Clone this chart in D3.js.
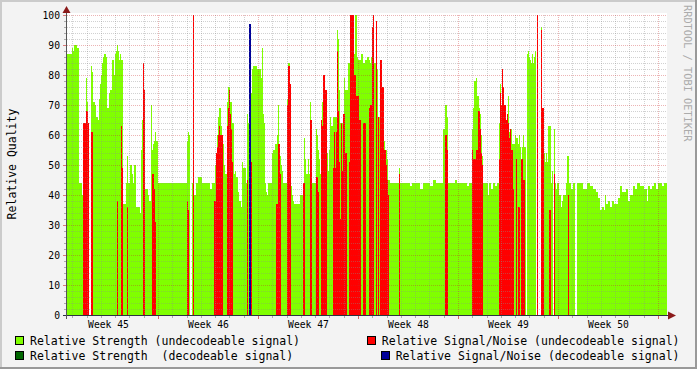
<!DOCTYPE html>
<html>
<head>
<meta charset="utf-8">
<script src="https://cdn.jsdelivr.net/npm/d3@7"></script>
<style>
  body { margin: 0; background: #f3f3f3; }
  svg { display: block; }
  text { font-family: "DejaVu Sans Mono", monospace; }
</style>
</head>
<body>
<svg id="chart" width="697" height="369"></svg>
<script>
// one sample every 6048 s (1.68 h), 600 samples, first one Mon 5 Nov 2007 15:07 UTC
const startTime = Date.UTC(2007, 10, 5, 15, 7, 12);
const stepMs = 6048 * 1000;
const sampleCount = 600;

// [first sample, value] – value holds until the next entry, null = no data
const strengthUndec = [
  [0, 87], [5, 89], [6, 88], [7, 90], [10, 89], [12, 44], [15, 40], [16, 62], [19, 79], [20, 71],
  [21, 64], [22, null], [24, 83], [25, 81], [26, 71], [28, 70], [29, 66], [31, 65], [32, 72], [33, 77],
  [34, 80], [35, 84], [36, 86], [37, 87], [39, 86], [40, 69], [42, 74], [43, 75], [45, 85], [47, 80],
  [48, 87], [49, 88], [50, 90], [51, 88], [52, 85], [53, 87], [54, 85], [56, 37], [59, 44], [60, 53],
  [61, 44], [63, 50], [65, 47], [66, 44], [67, 50], [69, 36], [73, 34], [74, 55], [75, 65], [77, 55],
  [78, 42], [81, 40], [82, 38], [84, 70], [85, 55], [86, 57], [87, 58], [88, 61], [89, 58], [91, 44],
  [120, 58], [121, 61], [122, 60], [123, null], [125, 44], [127, 40], [129, 44], [131, 46], [135, 44], [143, 42],
  [145, 44], [148, 50], [149, 54], [150, 60], [151, 66], [152, 69], [154, 63], [155, 57], [157, 50], [158, 47],
  [160, 71], [161, 76], [163, 71], [165, 64], [167, 47], [168, 48], [169, 46], [171, 41], [172, 38], [174, 36],
  [175, 51], [176, 49], [179, 44], [180, 67], [181, 64], [184, 74], [185, 82], [186, 83], [190, 82], [194, 79],
  [195, 89], [196, 67], [197, 64], [198, 44], [199, 41], [200, 40], [201, 44], [205, 54], [206, 55], [208, 57],
  [210, 60], [211, 70], [212, 57], [213, 53], [214, 50], [215, 48], [216, 44], [220, 72], [221, 84], [223, 77],
  [224, 43], [225, 40], [226, 38], [227, 37], [233, 40], [236, 42], [237, 59], [238, 52], [239, 47], [241, 52],
  [242, 47], [243, 71], [244, 65], [245, 44], [249, 62], [250, 60], [251, 55], [252, 52], [253, 47], [255, 71],
  [256, 62], [257, 80], [258, 75], [260, 54], [261, 48], [262, 55], [263, 66], [264, 63], [266, 66], [270, 95],
  [271, 92], [272, 75], [273, 64], [277, 79], [278, 75], [281, 84], [283, 81], [287, 87], [288, 100], [290, 86],
  [291, 85], [294, 87], [296, 84], [298, 85], [300, 86], [302, 85], [303, 84], [304, 86], [305, 84], [309, 82],
  [311, 66], [314, 65], [316, 60], [317, 58], [318, 55], [320, 52], [321, 45], [323, 44], [332, 49], [333, 44],
  [343, 43], [345, 44], [353, 42], [356, 44], [363, 43], [366, 45], [369, 44], [376, 62], [378, 70], [380, 66],
  [381, 44], [388, 45], [390, 44], [400, 43], [402, 44], [405, 62], [406, 69], [407, 78], [409, 79], [410, 73],
  [412, 69], [413, 67], [414, 60], [415, 53], [416, 44], [421, 40], [422, 44], [424, 42], [426, 44], [428, 43],
  [430, 44], [432, 64], [433, 77], [434, 70], [435, 78], [436, 70], [438, 65], [441, 73], [442, 61], [443, 62],
  [445, 57], [448, 60], [449, 59], [451, 57], [452, 60], [453, 56], [454, 51], [455, 56], [456, 60], [457, 56],
  [459, null], [460, 87], [461, 88], [462, 86], [463, 85], [464, 84], [465, 87], [466, 84], [467, 86], [468, 88],
  [469, null], [470, 44], [471, null], [474, 96], [475, 51], [477, 54], [478, 51], [479, 54], [480, 51], [481, 63],
  [484, 44], [485, 48], [486, null], [487, 62], [488, 44], [489, 42], [490, 44], [492, 40], [494, 36], [495, 38],
  [496, 40], [499, 44], [500, 53], [502, 44], [504, 42], [506, 44], [508, null], [510, 44], [516, 42], [520, 44],
  [523, 43], [526, 42], [529, 41], [531, 39], [533, 35], [535, 36], [537, 35], [538, 40], [539, 37], [541, 38],
  [543, 36], [545, 38], [547, 37], [551, 39], [553, 43], [555, 41], [559, 42], [561, 38], [563, 40], [566, 43],
  [568, 42], [570, 44], [573, 43], [577, 42], [580, 38], [581, 43], [583, 42], [585, 43], [587, 44], [589, 42],
  [591, 44], [595, 43], [597, 44]
];

const strengthDec = [
  [182, 95], [184, 0]
];

const snUndec = [
  [16, 64], [19, 68], [21, 64], [22, 0], [24, 61], [26, 0], [50, 38], [51, 0], [54, 63], [55, 49],
  [56, 0], [60, 36], [61, 0], [76, 84], [77, 75], [78, 0], [85, 47], [87, 42], [88, 31], [89, 0],
  [120, 38], [121, 35], [122, 0], [126, 100], [127, 0], [147, 38], [149, 54], [150, 56], [151, 60], [152, 63],
  [153, 60], [156, 0], [160, 63], [161, 69], [162, 75], [163, 67], [164, 62], [165, 51], [166, 0], [180, 45],
  [181, 0], [184, 51], [185, 0], [209, 37], [211, 57], [213, 47], [214, 0], [220, 70], [221, 83], [223, 77],
  [224, 0], [236, 44], [238, 0], [243, 65], [245, 0], [249, 46], [251, 41], [252, 0], [254, 65], [255, 63],
  [256, 80], [258, 75], [260, 0], [266, 49], [267, 61], [268, 49], [269, 61], [270, 88], [271, 68], [272, 51],
  [273, 32], [274, 64], [275, 48], [276, 67], [278, 54], [280, 0], [282, 51], [283, 100], [287, 80], [289, 73],
  [292, 65], [294, 0], [296, 64], [299, 0], [302, 69], [303, 70], [305, 96], [306, 100], [307, 0], [309, 98],
  [310, 0], [311, 66], [312, 0], [313, 85], [315, 76], [317, 55], [319, 50], [320, 45], [321, 40], [322, 0],
  [332, 47], [333, 0], [378, 60], [380, 55], [381, 0], [405, 55], [406, 52], [409, 55], [411, 68], [413, 62],
  [414, 54], [415, 50], [416, 0], [432, 52], [433, 74], [434, 70], [435, 82], [436, 76], [437, 70], [439, 65],
  [440, 67], [441, 64], [442, 59], [443, 62], [444, 55], [446, 42], [447, 0], [449, 52], [450, 0], [451, 36],
  [453, 0], [454, 52], [456, 45], [458, 0], [470, 100], [471, 0], [474, 95], [475, 69], [477, 0], [482, 35],
  [484, 0], [487, 47], [488, 0], [501, 40], [502, 0]
];

const snDec = [
  [182, 97], [184, 0]
];

const yTicks = [0, 10, 20, 30, 40, 50, 60, 70, 80, 90, 100];

const seriesNames = [
  "Relative Strength (undecodeable signal)",
  "Relative Strength  (decodeable signal)",
  "Relative Signal/Noise (undecodeable signal)",
  "Relative Signal/Noise (decodeable signal)"
];
const seriesColors = ["#80ff00", "#006600", "#ff0000", "#000099"];

// expand the run lists into one value per sample
function expand(steps, dflt) {
  const out = new Array(sampleCount).fill(dflt);
  steps.forEach(([from, v], k) => {
    const to = k + 1 < steps.length ? steps[k + 1][0] : sampleCount;
    for (let i = from; i < to; i++) out[i] = v;
  });
  return out;
}

const series = [
  expand(strengthUndec, null),
  expand(strengthDec, 0),
  expand(snUndec, 0),
  expand(snDec, 0)
];

const sampleTime = i => new Date(startTime + i * stepMs);

const svg = d3.select("#chart");
const W = 697, H = 369;
const plotL = 67, plotR = 667, plotT = 15, plotB = 315;

const x = d3.scaleUtc().domain([sampleTime(0), sampleTime(sampleCount)]).range([plotL, plotR]);
const y = d3.scaleLinear().domain([0, 100]).range([plotB, plotT]);

// background and 3d frame
svg.append("rect").attr("width", W).attr("height", H).attr("fill", "#f3f3f3");
svg.append("rect").attr("x", 0).attr("y", 0).attr("width", W).attr("height", 2).attr("fill", "#cbcbcb");
svg.append("rect").attr("x", 0).attr("y", 0).attr("width", 2).attr("height", H).attr("fill", "#cbcbcb");
svg.append("rect").attr("x", 0).attr("y", H - 2).attr("width", W).attr("height", 2).attr("fill", "#999");
svg.append("rect").attr("x", W - 2).attr("y", 0).attr("width", 2).attr("height", H).attr("fill", "#999");

// canvas
svg.append("rect").attr("x", plotL).attr("y", plotT - 2).attr("width", plotR - plotL).attr("height", plotB - plotT + 2)
  .attr("fill", "#fff");

// the four areas, one column per sample, drawn in rrd order
const marks = svg.append("g").attr("shape-rendering", "crispEdges");
series.forEach((values, s) => {
  const pts = values.map((v, i) => ({ i, v })).filter(d => d.v != null && d.v > 0);
  marks.append("g").selectAll("rect")
    .data(pts)
    .join("rect")
    .attr("x", d => x(sampleTime(d.i)))
    .attr("width", d => x(sampleTime(d.i + 1)) - x(sampleTime(d.i)))
    .attr("y", d => y(d.v))
    .attr("height", d => y(0) - y(d.v))
    .attr("fill", seriesColors[s]);
});

// grid on top of the data
const grid = svg.append("g").attr("stroke-dasharray", "1,1").attr("shape-rendering", "crispEdges");
const minorCol = "rgba(140,140,140,0.4)";
const majorCol = "rgba(200,40,40,0.35)";
const [t0, t1] = x.domain();
const days = d3.utcDay.range(t0, t1).filter(d => d.getUTCDay() !== 1);
const weeks = d3.utcMonday.range(t0, t1);

grid.selectAll(".vmin").data(days).join("line")
  .attr("x1", d => Math.round(x(d)) + 0.5).attr("x2", d => Math.round(x(d)) + 0.5)
  .attr("y1", plotT).attr("y2", plotB).attr("stroke", minorCol);
grid.selectAll(".vmaj").data(weeks).join("line")
  .attr("x1", d => Math.round(x(d)) + 0.5).attr("x2", d => Math.round(x(d)) + 0.5)
  .attr("y1", plotT).attr("y2", plotB).attr("stroke", majorCol);

const hLevels = d3.range(2, 101, 2);
grid.selectAll(".h").data(hLevels).join("line")
  .attr("x1", plotL).attr("x2", plotR)
  .attr("y1", d => y(d) + 0.5).attr("y2", d => y(d) + 0.5)
  .attr("stroke", d => d % 10 === 0 ? majorCol : minorCol);

// tick marks
const ticks = svg.append("g").attr("shape-rendering", "crispEdges");
ticks.selectAll(".yt").data(hLevels).join("line")
  .attr("x1", d => d % 10 === 0 ? 63 : 64).attr("x2", 66)
  .attr("y1", d => y(d) + 0.5).attr("y2", d => y(d) + 0.5)
  .attr("stroke", d => d % 10 === 0 ? "rgba(200,40,40,0.6)" : "rgba(140,140,140,0.7)");
ticks.selectAll(".xt").data(days).join("line")
  .attr("x1", d => Math.round(x(d)) + 0.5).attr("x2", d => Math.round(x(d)) + 0.5)
  .attr("y1", plotB + 1).attr("y2", plotB + 3).attr("stroke", "rgba(140,140,140,0.7)");
ticks.selectAll(".xw").data(weeks).join("line")
  .attr("x1", d => Math.round(x(d)) + 0.5).attr("x2", d => Math.round(x(d)) + 0.5)
  .attr("y1", plotB + 1).attr("y2", plotB + 4).attr("stroke", "rgba(200,40,40,0.7)");

// axes lines and arrows
const axisCol = "#2c3440";
const arrowCol = "#8b1a1a";
svg.append("line").attr("x1", 63).attr("x2", 671).attr("y1", plotB + 0.5).attr("y2", plotB + 0.5)
  .attr("stroke", axisCol).attr("shape-rendering", "crispEdges");
svg.append("line").attr("x1", plotL - 0.5).attr("x2", plotL - 0.5).attr("y1", plotB + 4).attr("y2", 10)
  .attr("stroke", "#555").attr("shape-rendering", "crispEdges");
svg.append("path").attr("d", "M668,311.5 L676,315.5 L668,319.5 Z").attr("fill", arrowCol);
svg.append("path").attr("d", "M62.5,13 L66.5,6 L70.5,13 Z").attr("fill", arrowCol);

// y tick labels
const yAxis = d3.axisLeft(y).tickValues(yTicks).tickSize(0).tickPadding(7);
svg.append("g").attr("transform", `translate(${plotL},0)`).call(yAxis)
  .call(g => g.select(".domain").remove())
  .call(g => g.selectAll("text").attr("font-family", "DejaVu Sans Mono").attr("font-size", "9.7px")
    .attr("fill", "#000"));

// week labels, centred in their week
const weekStarts = d3.utcMonday.range(new Date(+t0 - 7 * 864e5), t1);
const labelDates = weekStarts.map(d => new Date(+d + 3.5 * 864e5)).filter(d => d >= t0 && d <= t1);
const fmtWeek = d3.utcFormat("Week %V");
const xAxis = d3.axisBottom(x).tickValues(labelDates).tickSize(0).tickPadding(0)
  .tickFormat(d => fmtWeek(new Date(+d - 3.5 * 864e5)));
svg.append("g").attr("transform", `translate(0,${plotB})`).call(xAxis)
  .call(g => g.select(".domain").remove())
  .call(g => g.selectAll("text").attr("font-family", "DejaVu Sans Mono").attr("font-size", "9.7px")
    .attr("fill", "#000").attr("dy", null).attr("y", 12.8));

// y axis title
svg.append("text").attr("transform", "translate(15.5,164) rotate(-90)")
  .attr("text-anchor", "middle").attr("font-size", "11.5px").attr("fill", "#000")
  .text("Relative Quality");

// watermark
svg.append("text").attr("transform", "translate(684,5) rotate(90)")
  .attr("font-size", "10.3px").attr("fill", "#ababab")
  .text("RRDTOOL / TOBI OETIKER");

// legend
const legend = svg.append("g").attr("font-size", "11.5px");
seriesNames.forEach((name, s) => {
  const row = s % 2;
  const colRight = s >= 2;
  const base = 344.5 + row * 15;
  const t = legend.append("text").attr("y", base).attr("fill", "#000").attr("xml:space", "preserve").text(name);
  let tx = 30;
  if (colRight) {
    tx = 679.5 - t.node().getComputedTextLength();
  }
  t.attr("x", tx);
  legend.append("rect").attr("x", tx - 14.5).attr("y", base - 8).attr("width", 8).attr("height", 8)
    .attr("fill", seriesColors[s]).attr("stroke", "#000").attr("shape-rendering", "crispEdges");
});
</script>
</body>
</html>
